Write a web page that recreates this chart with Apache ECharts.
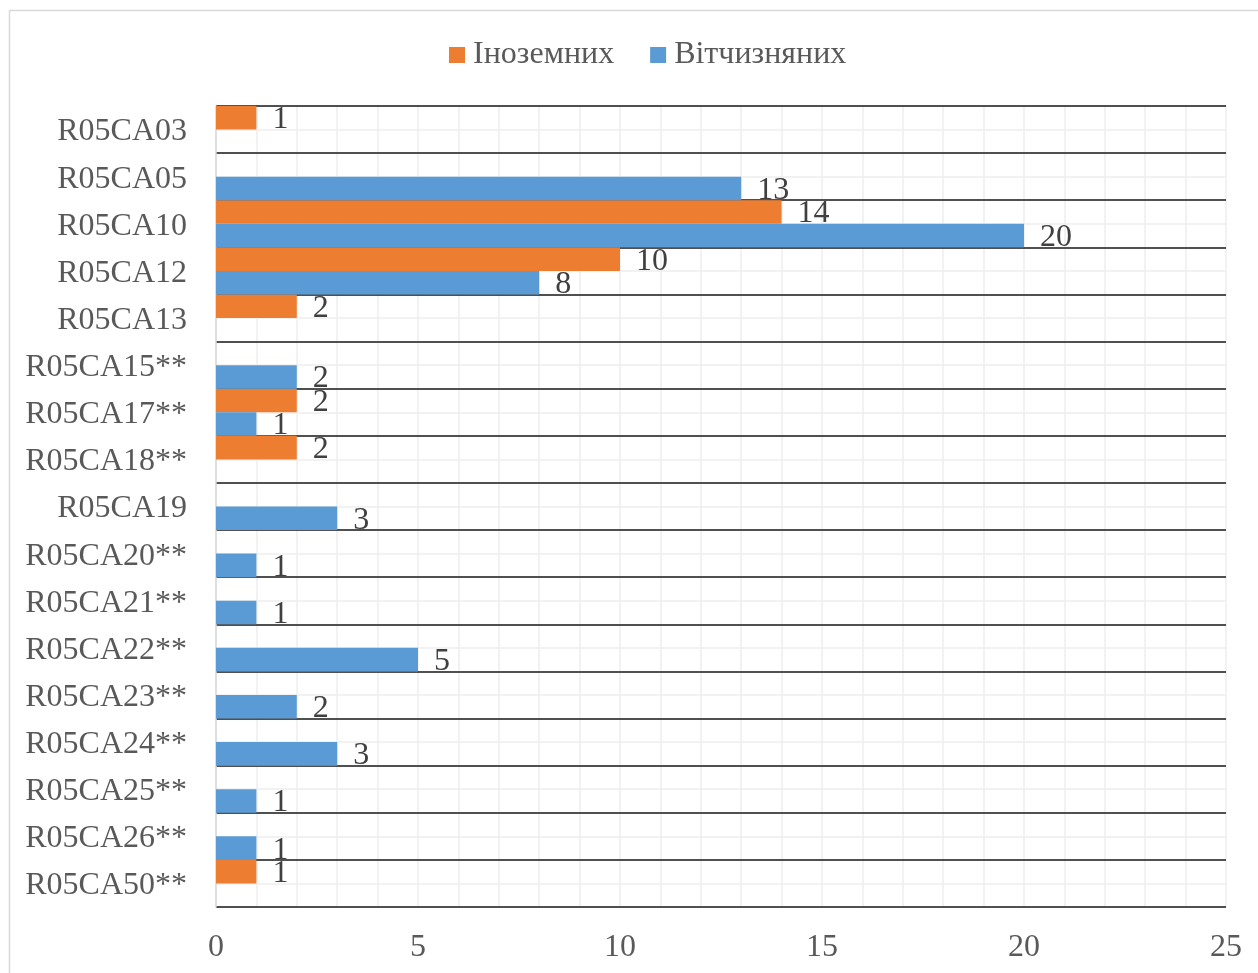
<!DOCTYPE html>
<html>
<head>
<meta charset="utf-8">
<script src="https://cdn.jsdelivr.net/npm/echarts@6/dist/echarts.min.js"></script>
<style>
  html, body { margin: 0; padding: 0; background: #fff; }
  #chart { width: 1258px; height: 973px; }
</style>
</head>
<body>
<div id="chart"></div>
<script>
const categories = ['R05CA03','R05CA05','R05CA10','R05CA12','R05CA13','R05CA15**','R05CA17**','R05CA18**','R05CA19','R05CA20**','R05CA21**','R05CA22**','R05CA23**','R05CA24**','R05CA25**','R05CA26**','R05CA50**'];
const foreignValues = [1, null, 14, 10, 2, null, 2, 2, null, null, null, null, null, null, null, null, 1];
const domesticValues = [null, 13, 20, 8, null, 2, 1, null, 3, 1, 1, 5, 2, 3, 1, 1, null];
const seriesNames = ['Іноземних', 'Вітчизняних'];
const xTicks = [0, 5, 10, 15, 20, 25];

const FONT = "'Liberation Serif', 'Times New Roman', serif";
const chart = echarts.init(document.getElementById('chart'), null, { renderer: 'canvas' });

const labelCfg = {
  show: true,
  position: 'right',
  distance: 16,
  offset: [0, 2],
  color: '#404040',
  fontFamily: FONT,
  fontSize: 32,
  formatter: p => (p.value == null ? '' : String(p.value))
};

chart.setOption({
  backgroundColor: '#fff',
  animation: false,
  graphic: [{
    type: 'rect',
    shape: { x: 9.5, y: 10.5, width: 1300, height: 1000 },
    style: { fill: 'none', stroke: '#d9d9d9', lineWidth: 1.5 },
    z: -10
  }],
  legend: {
    data: seriesNames,
    top: 39,
    left: 449,
    padding: 0,
    itemWidth: 16,
    itemHeight: 16,
    itemGap: 36,
    icon: 'rect',
    textStyle: { fontFamily: FONT, fontSize: 32, color: '#595959', padding: [0, 0, 0, 3] }
  },
  grid: { left: 216, right: 32, top: 106, bottom: 66, containLabel: false },
  xAxis: {
    type: 'value',
    min: xTicks[0],
    max: xTicks[xTicks.length - 1],
    interval: 5,
    z: 0,
    axisLine: { show: false },
    axisTick: { show: false },
    axisLabel: { fontFamily: FONT, fontSize: 32, color: '#595959', margin: 25 },
    splitLine: { show: true, lineStyle: { color: '#eeeeee', width: 1.5 } },
    minorTick: { show: false, splitNumber: 5 },
    minorSplitLine: { show: true, lineStyle: { color: '#eeeeee', width: 1.5 } }
  },
  yAxis: [{
    type: 'category',
    data: categories,
    inverse: true,
    z: 2,
    axisLine: { show: true, lineStyle: { color: '#d9d9d9', width: 1.5 } },
    axisTick: { show: false },
    axisLabel: {
      margin: 29,
      formatter: v => '{c|' + v + '}',
      rich: { c: { fontFamily: FONT, fontSize: 32, color: '#595959', padding: [5, 0, 0, 0] } }
    },
    splitLine: { show: true, lineStyle: { color: '#1a1a1a', width: 1.5 } }
  }, {
    type: 'value',
    min: 0,
    max: 17,
    interval: 0.5,
    position: 'right',
    z: 0,
    axisLine: { show: false },
    axisTick: { show: false },
    axisLabel: { show: false },
    splitLine: { show: true, lineStyle: { color: '#eeeeee', width: 1.5 } }
  }],
  series: [{
    name: seriesNames[0],
    type: 'bar',
    yAxisIndex: 0,
    data: foreignValues,
    barGap: '0%',
    barCategoryGap: '0%',
    itemStyle: { color: '#ED7D31' },
    label: labelCfg
  }, {
    name: seriesNames[1],
    type: 'bar',
    yAxisIndex: 0,
    data: domesticValues,
    barGap: '0%',
    barCategoryGap: '0%',
    itemStyle: { color: '#5B9BD5' },
    label: labelCfg
  }]
});
</script>
</body>
</html>
